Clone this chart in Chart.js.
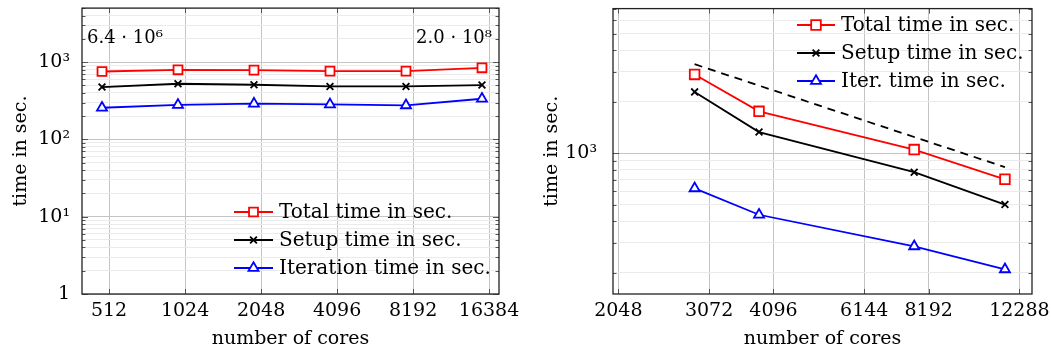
<!DOCTYPE html>
<html>
<head>
<meta charset="utf-8">
<script src="https://cdn.jsdelivr.net/npm/chart.js@4.4.1/dist/chart.umd.min.js"></script>
<style>
  html, body { margin: 0; padding: 0; background: #fff; }
  canvas { position: absolute; top: 0; }
</style>
</head>
<body>
<canvas id="weak" width="520" height="354" style="left:0"></canvas>
<canvas id="strong" width="526" height="354" style="left:525px"></canvas>
<script>
  "use strict";

  // weak scaling (left)
  const weakCores = [480, 960, 1920, 3840, 7680, 15360];
  const weakTotal = [756, 796, 788, 765, 765, 844];
  const weakSetup = [476, 525, 510, 485, 485, 505];
  const weakIter = [257, 279, 290, 284, 276, 336];
  const weakXTicks = [512, 1024, 2048, 4096, 8192, 16384];
  const weakYTicks = [1, 2, 3, 4, 5, 6, 7, 8, 9, 10, 20, 30, 40, 50, 60, 70, 80, 90,
    100, 200, 300, 400, 500, 600, 700, 800, 900, 1000, 2000, 3000, 4000, 5000];
  const weakSizes = ["6.4 · 10⁶", "2.0 · 10⁸"];

  // strong scaling (right)
  const strongCores = [2880, 3840, 7680, 11520];
  const strongTotal = [2885, 1756, 1049, 703];
  const strongSetup = [2280, 1328, 773, 500];
  const strongIter = [622, 436, 285, 209];
  const idealCores = [2880, 11520];
  const idealTime = [3310, 828];
  const strongXTicks = [2048, 3072, 4096, 6144, 8192, 12288];
  const strongYTicks = [200, 300, 400, 500, 600, 700, 800, 900, 1000,
    2000, 3000, 4000, 5000, 6000, 7000];

  const FAMILY = "DejaVu Serif";
  const TICK_FONT = { family: FAMILY, size: 19 };
  const TITLE_FONT = { family: FAMILY, size: 19 };
  const LEGEND_SIZE = 20;
  const CORNER_SIZE = 18;
  const LINE_W = 1.8;
  const MAJOR_GRID = "#c4c4c4";
  const MINOR_GRID = "#ebebeb";
  const SUP = { "0": "⁰", "1": "¹", "2": "²", "3": "³", "4": "⁴", "5": "⁵", "6": "⁶", "7": "⁷", "8": "⁸", "9": "⁹" };

  function isDecade(v) {
    const e = Math.log10(v);
    return Math.abs(e - Math.round(e)) < 1e-9;
  }

  function decadeLabel(v) {
    if (!isDecade(v)) return "";
    const e = Math.round(Math.log10(v));
    if (e === 0) return "1";
    return "10" + String(e).split("").map((c) => SUP[c]).join("");
  }

  function drawMarker(ctx, style, x, y, r, color) {
    ctx.save();
    ctx.lineWidth = LINE_W;
    ctx.strokeStyle = color;
    ctx.fillStyle = "#fff";
    ctx.beginPath();
    if (style === "rect") {
      const s = r * Math.SQRT1_2;
      ctx.rect(x - s, y - s, 2 * s, 2 * s);
      ctx.fill();
    } else if (style === "triangle") {
      ctx.moveTo(x, y - r);
      ctx.lineTo(x + r * 0.866, y + r / 2);
      ctx.lineTo(x - r * 0.866, y + r / 2);
      ctx.closePath();
      ctx.fill();
    } else {
      const s = r * Math.SQRT1_2;
      ctx.moveTo(x - s, y - s);
      ctx.lineTo(x + s, y + s);
      ctx.moveTo(x + s, y - s);
      ctx.lineTo(x - s, y + s);
    }
    ctx.stroke();
    ctx.restore();
  }

  function series(label, xs, ys, color, style, radius) {
    return {
      label: label,
      data: xs.map((x, i) => ({ x: x, y: ys[i] })),
      borderColor: color,
      backgroundColor: "#fff",
      borderWidth: LINE_W,
      pointStyle: style,
      pointRadius: radius,
      pointBorderColor: color,
      pointBackgroundColor: "#fff",
      pointBorderWidth: LINE_W,
      tension: 0,
    };
  }

  const frameAndTicks = {
    id: "frameAndTicks",
    afterDatasetsDraw(chart) {
      const ctx = chart.ctx;
      const a = chart.chartArea;
      const xs = chart.scales.x;
      const ys = chart.scales.y;
      ctx.save();
      ctx.strokeStyle = "#555";
      ctx.lineWidth = 1;
      xs.ticks.forEach((t) => {
        const px = Math.round(xs.getPixelForValue(t.value)) + 0.5;
        ctx.beginPath();
        ctx.moveTo(px, a.bottom);
        ctx.lineTo(px, a.bottom - 5);
        ctx.moveTo(px, a.top);
        ctx.lineTo(px, a.top + 5);
        ctx.stroke();
      });
      ys.ticks.forEach((t) => {
        const py = Math.round(ys.getPixelForValue(t.value)) + 0.5;
        const len = isDecade(t.value) ? 6 : 3.5;
        ctx.beginPath();
        ctx.moveTo(a.left, py);
        ctx.lineTo(a.left + len, py);
        ctx.moveTo(a.right, py);
        ctx.lineTo(a.right - len, py);
        ctx.stroke();
      });
      ctx.strokeStyle = "#222";
      ctx.lineWidth = 1.3;
      ctx.strokeRect(a.left, a.top, a.right - a.left, a.bottom - a.top);
      ctx.restore();
    },
  };

  const lineLegend = {
    id: "lineLegend",
    afterDraw(chart, args, opts) {
      const ctx = chart.ctx;
      ctx.save();
      ctx.font = LEGEND_SIZE + "px " + FAMILY;
      ctx.textBaseline = "middle";
      ctx.fillStyle = "#000";
      let row = 0;
      chart.data.datasets.forEach((ds) => {
        if (!ds.label) return;
        const y = opts.y + row * opts.rowGap;
        ctx.strokeStyle = ds.borderColor;
        ctx.lineWidth = LINE_W;
        ctx.beginPath();
        ctx.moveTo(opts.x, y);
        ctx.lineTo(opts.x + opts.lineLen, y);
        ctx.stroke();
        drawMarker(ctx, ds.pointStyle, opts.x + opts.lineLen / 2, y, ds.pointRadius, ds.borderColor);
        ctx.fillText(ds.label, opts.x + opts.lineLen + 6, y + 1);
        row += 1;
      });
      ctx.restore();
    },
  };

  const cornerText = {
    id: "cornerText",
    afterDraw(chart, args, opts) {
      if (!opts.texts) return;
      const ctx = chart.ctx;
      const a = chart.chartArea;
      ctx.save();
      ctx.font = CORNER_SIZE + "px " + FAMILY;
      ctx.textBaseline = "middle";
      ctx.fillStyle = "#000";
      ctx.textAlign = "left";
      ctx.fillText(opts.texts[0], a.left + 5, a.top + 30);
      ctx.textAlign = "right";
      ctx.fillText(opts.texts[1], a.right - 7, a.top + 30);
      ctx.restore();
    },
  };

  function logAxis(min, max, tickValues, title, labelFn, gridFn, extra) {
    return Object.assign({
      type: "logarithmic",
      min: min,
      max: max,
      bounds: "data",
      afterBuildTicks: (scale) => {
        scale.ticks = tickValues.map((v) => ({ value: v }));
      },
      ticks: {
        autoSkip: false,
        maxRotation: 0,
        minRotation: 0,
        color: "#000",
        font: TICK_FONT,
        callback: labelFn,
      },
      grid: { color: gridFn, drawTicks: false, lineWidth: 1 },
      border: { display: false },
      title: { display: true, text: title, color: "#000", font: TITLE_FONT },
    }, extra);
  }

  function createChart(canvas, cfg) {
    const x = logAxis(cfg.xMin, cfg.xMax, cfg.xTicks, "number of cores",
      (v) => String(v), () => MAJOR_GRID, {
        afterFit: (s) => {
          s.height = 60;
          s.paddingLeft = 0;
          s.paddingRight = 0;
        },
      });
    x.ticks.padding = 6;
    x.title.padding = { top: 0, bottom: 4 };

    const y = logAxis(cfg.yMin, cfg.yMax, cfg.yTicks, "time in sec.",
      (v) => decadeLabel(v),
      (c) => (isDecade(c.tick.value) ? MAJOR_GRID : MINOR_GRID), {
        afterFit: (s) => {
          s.width = cfg.yWidth;
          s.paddingTop = 0;
          s.paddingBottom = 0;
        },
      });
    y.ticks.padding = cfg.yTickPad;
    y.title.padding = { top: cfg.yTitlePad, bottom: 0 };

    return new Chart(canvas, {
      type: "line",
      data: { datasets: cfg.datasets },
      plugins: [frameAndTicks, lineLegend, cornerText],
      options: {
        responsive: false,
        animation: false,
        events: [],
        layout: { padding: cfg.padding },
        plugins: {
          legend: { display: false },
          tooltip: { enabled: false },
          lineLegend: cfg.legend,
          cornerText: { texts: cfg.cornerTexts },
        },
        scales: { x: x, y: y },
      },
    });
  }

  createChart(document.getElementById("weak"), {
    datasets: [
      series("Total time in sec.", weakCores, weakTotal, "#ff0000", "rect", 6.3),
      series("Setup time in sec.", weakCores, weakSetup, "#000000", "crossRot", 4.8),
      series("Iteration time in sec.", weakCores, weakIter, "#0000ff", "triangle", 5.8),
    ],
    padding: { top: 7, right: 21, bottom: 0, left: 0 },
    legend: { x: 234, y: 212, rowGap: 28, lineLen: 39 },
    cornerTexts: weakSizes,
    xMin: 400, xMax: 17940, xTicks: weakXTicks,
    yMin: 1, yMax: 5000, yTicks: weakYTicks,
    yWidth: 82, yTickPad: 12, yTitlePad: 10,
  });

  const idealLine = {
    data: idealCores.map((x, i) => ({ x: x, y: idealTime[i] })),
    borderColor: "#000",
    borderWidth: LINE_W,
    borderDash: [8, 6],
    pointRadius: 0,
  };

  createChart(document.getElementById("strong"), {
    datasets: [
      series("Total time in sec.", strongCores, strongTotal, "#ff0000", "rect", 6.8),
      series("Setup time in sec.", strongCores, strongSetup, "#000000", "crossRot", 4.8),
      series("Iter. time in sec.", strongCores, strongIter, "#0000ff", "triangle", 5.8),
      idealLine,
    ],
    padding: { top: 6, right: 19, bottom: 0, left: 0 },
    legend: { x: 272, y: 25, rowGap: 28, lineLen: 38 },
    cornerTexts: null,
    xMin: 2000, xMax: 13000, xTicks: strongXTicks,
    yMin: 150, yMax: 7000, yTicks: strongYTicks,
    yWidth: 88, yTickPad: 16, yTitlePad: 16,
  });
</script>
</body>
</html>
